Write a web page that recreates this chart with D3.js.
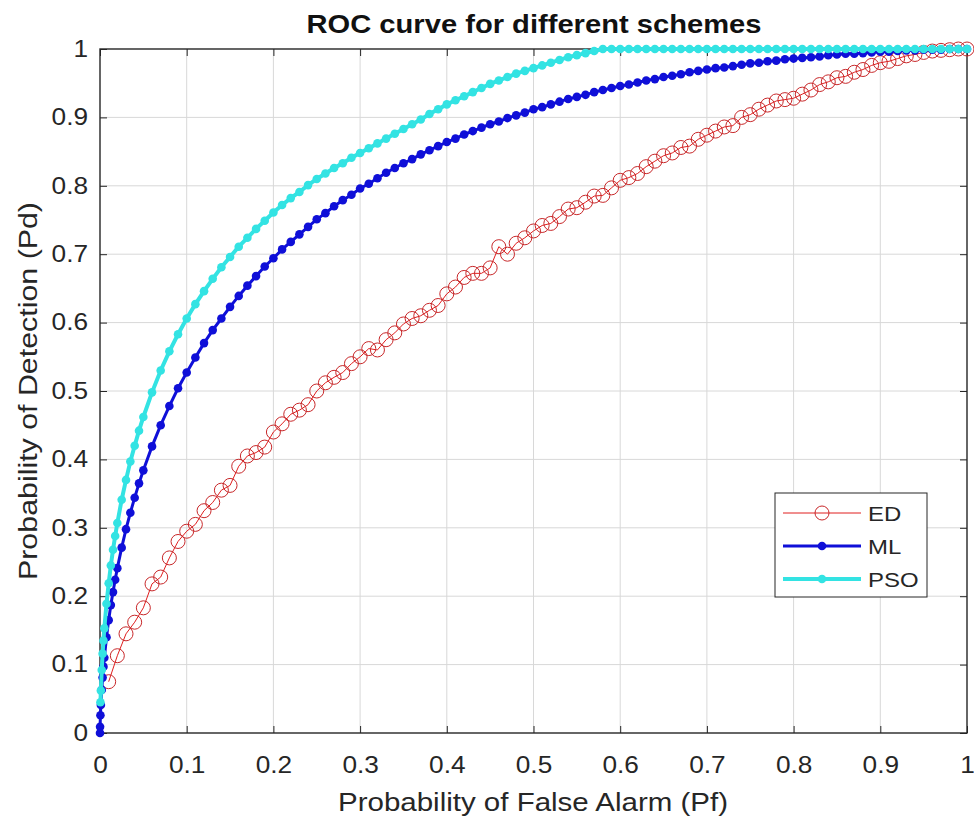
<!DOCTYPE html>
<html>
<head>
	<meta charset="utf-8">
	<title>ROC curve</title>
	<script src="https://d3js.org/d3.v7.min.js"></script>
	<style type="text/css">
		body { margin: 0; background: #fff; }
		svg text { font-family: 'Liberation Sans', Arial, sans-serif; fill: #262626; }
	</style>
</head>
<body>
	<div id="chart"></div>
	<script type="text/javascript">
		// shared false-alarm grid 0.06 .. 1.00
		const pfGrid = [0.06,0.07,0.08,0.09,0.10,0.11,0.12,0.13,0.14,0.15,0.16,0.17,0.18,0.19,0.20,
			0.21,0.22,0.23,0.24,0.25,0.26,0.27,0.28,0.29,0.30,0.31,0.32,0.33,0.34,0.35,0.36,0.37,0.38,0.39,0.40,
			0.41,0.42,0.43,0.44,0.45,0.46,0.47,0.48,0.49,0.50,0.51,0.52,0.53,0.54,0.55,0.56,0.57,0.58,0.59,0.60,
			0.61,0.62,0.63,0.64,0.65,0.66,0.67,0.68,0.69,0.70,0.71,0.72,0.73,0.74,0.75,0.76,0.77,0.78,0.79,0.80,
			0.81,0.82,0.83,0.84,0.85,0.86,0.87,0.88,0.89,0.90,0.91,0.92,0.93,0.94,0.95,0.96,0.97,0.98,0.99,1.00];

		const edPf = [0.01,0.02,0.03,0.04,0.05].concat(pfGrid);
		const edPd = [0.075,0.113,0.145,0.162,0.183,
			0.218,0.228,0.256,0.28,0.295,0.305,0.325,0.337,0.355,0.362,0.39,0.405,0.41,0.418,0.44,
			0.452,0.466,0.472,0.48,0.5,0.512,0.52,0.527,0.54,0.55,0.562,0.56,0.575,0.585,0.598,0.606,0.61,0.618,0.625,0.642,
			0.652,0.666,0.672,0.672,0.68,0.711,0.70,0.716,0.724,0.734,0.742,0.745,0.755,0.766,0.768,0.776,0.785,0.786,0.797,0.808,
			0.812,0.818,0.828,0.836,0.844,0.848,0.856,0.858,0.868,0.874,0.88,0.886,0.888,0.9,0.904,0.912,0.918,0.924,0.926,0.928,
			0.934,0.94,0.948,0.952,0.958,0.96,0.966,0.97,0.976,0.98,0.982,0.986,0.99,0.992,0.995,0.997,0.998,0.999,1.0,1.0];

		const mlPf = [0,0.0001,0.0005,0.001,0.002,0.003,0.004,0.005,0.0075,0.01,0.0125,0.015,0.0175,0.02,
			0.025,0.03,0.035,0.04,0.045,0.05].concat(pfGrid);
		const mlPd = [0,0.009,0.026,0.041,0.063,0.081,0.097,0.110,0.140,0.165,0.187,0.206,0.224,0.241,
			0.271,0.298,0.322,0.344,0.365,0.384,
			0.419,0.450,0.478,0.504,0.527,0.549,0.570,0.589,0.606,0.623,0.639,0.654,0.668,0.682,0.694,
			0.707,0.718,0.729,0.740,0.751,0.760,0.770,0.779,0.787,0.796,0.803,0.811,0.819,0.826,0.833,0.839,0.846,0.852,0.858,0.864,
			0.869,0.875,0.880,0.885,0.890,0.894,0.899,0.903,0.907,0.912,0.915,0.919,0.923,0.927,0.930,0.933,0.937,0.940,0.943,0.946,
			0.948,0.951,0.954,0.956,0.959,0.961,0.963,0.966,0.968,0.970,0.972,0.973,0.975,0.977,0.979,0.980,0.982,0.983,0.985,0.986,
			0.987,0.988,0.989,0.991,0.992,0.993,0.993,0.994,0.995,0.996,0.996,0.997,0.998,0.998,0.999,0.999,0.999,1.0,1.0,1.0];

		const psoPf = [0.0005,0.001,0.002,0.003,0.004,0.005,0.0075,0.01,0.0125,0.015,0.0175,0.02,
			0.025,0.03,0.035,0.04,0.045,0.05].concat(pfGrid);
		const psoPd = [0.045,0.062,0.092,0.116,0.135,0.153,0.189,0.219,0.245,0.268,0.288,0.307,
			0.341,0.370,0.397,0.420,0.442,0.462,
			0.498,0.530,0.558,0.583,0.606,0.627,0.646,0.664,0.681,0.696,0.711,0.724,0.737,0.749,0.761,
			0.772,0.782,0.791,0.801,0.810,0.818,0.826,0.833,0.841,0.848,0.855,0.862,0.869,0.876,0.883,0.890,0.897,0.905,0.912,0.919,
			0.925,0.931,0.937,0.943,0.949,0.954,0.959,0.964,0.968,0.972,0.976,0.980,0.984,0.988,0.991,0.994,0.997,1.0,1.0,1.0,
			1.0,1.0,1.0,1.0,1.0,1.0,1.0,1.0,1.0,1.0,1.0,1.0,1.0,1.0,1.0,1.0,1.0,1.0,1.0,1.0,
			1.0,1.0,1.0,1.0,1.0,1.0,1.0,1.0,1.0,1.0,1.0,1.0,1.0,1.0,1.0,1.0,1.0,1.0,1.0,1.0];

		const tickValues = [0,0.1,0.2,0.3,0.4,0.5,0.6,0.7,0.8,0.9,1];
		const seriesNames = ['ED','ML','PSO'];

		const W = 974, H = 821;
		const pLeft = 100, pRight = 967, pTop = 49, pBottom = 733;
		const wide = 1.14; // horizontal text stretch seen in the picture

		const x = d3.scaleLinear().domain([0,1]).range([pLeft,pRight]);
		const y = d3.scaleLinear().domain([0,1]).range([pBottom,pTop]);

		const svg = d3.select('#chart').append('svg')
			.attr('width', W).attr('height', H);

		function stretch(sel, k) {
			sel.each(function() {
				const len = this.getComputedTextLength();
				d3.select(this).attr('textLength', len * k).attr('lengthAdjust', 'spacingAndGlyphs');
			});
		}

		// grid
		svg.append('g').selectAll('line')
			.data(tickValues.slice(1,-1)).enter().append('line')
			.attr('x1', d => x(d)).attr('x2', d => x(d))
			.attr('y1', pTop).attr('y2', pBottom)
			.attr('stroke', '#d8d8d8').attr('stroke-width', 1);
		svg.append('g').selectAll('line')
			.data(tickValues.slice(1,-1)).enter().append('line')
			.attr('y1', d => y(d)).attr('y2', d => y(d))
			.attr('x1', pLeft).attr('x2', pRight)
			.attr('stroke', '#d8d8d8').attr('stroke-width', 1);

		// axes (MATLAB style box with inward ticks)
		const fmt = d => d === 0 ? '0' : d === 1 ? '1' : d3.format('.1f')(d);
		const ax = (g, axis) => {
			g.call(axis);
			g.select('.domain').remove();
			g.selectAll('line').attr('stroke', '#262626');
			g.selectAll('text').attr('font-size', 23).attr('fill', '#262626')
				.attr('font-family', "'Liberation Sans', Arial, sans-serif");
			stretch(g.selectAll('text'), wide);
		};
		svg.append('g').attr('transform', `translate(0,${pBottom})`)
			.call(g => ax(g, d3.axisBottom(x).tickValues(tickValues).tickFormat(fmt).tickSizeInner(-7).tickPadding(24)));
		svg.append('g').attr('transform', `translate(${pLeft},0)`)
			.call(g => ax(g, d3.axisLeft(y).tickValues(tickValues).tickFormat(fmt).tickSizeInner(-7).tickPadding(12)));
		svg.append('g').attr('transform', `translate(0,${pTop})`)
			.call(g => ax(g, d3.axisTop(x).tickValues(tickValues).tickFormat('').tickSizeInner(-7)));
		svg.append('g').attr('transform', `translate(${pRight},0)`)
			.call(g => ax(g, d3.axisRight(y).tickValues(tickValues).tickFormat('').tickSizeInner(-7)));

		svg.append('rect')
			.attr('x', pLeft).attr('y', pTop)
			.attr('width', pRight - pLeft).attr('height', pBottom - pTop)
			.attr('fill', 'none').attr('stroke', '#262626').attr('stroke-width', 1.4);

		const line = d3.line().x(d => x(d[0])).y(d => y(d[1]));
		const zip = (a, b) => a.map((v, i) => [v, b[i]]);

		const edData = zip(edPf, edPd);
		const mlData = zip(mlPf, mlPd);
		const psoData = zip(psoPf, psoPd);

		const edColor = '#e01e1e', mlColor = '#0f0fd8', psoColor = '#33e3e3';

		// ED
		svg.append('path').datum(edData).attr('d', line)
			.attr('fill', 'none').attr('stroke', edColor).attr('stroke-width', 1);
		svg.append('g').selectAll('circle').data(edData).enter().append('circle')
			.attr('cx', d => x(d[0])).attr('cy', d => y(d[1])).attr('r', 7)
			.attr('fill', 'none').attr('stroke', '#c8282a').attr('stroke-width', 1);

		// ML
		svg.append('path').datum(mlData).attr('d', line)
			.attr('fill', 'none').attr('stroke', mlColor).attr('stroke-width', 3);
		svg.append('g').selectAll('circle').data(mlData).enter().append('circle')
			.attr('cx', d => x(d[0])).attr('cy', d => y(d[1])).attr('r', 4.3)
			.attr('fill', mlColor);

		// PSO
		svg.append('path').datum(psoData).attr('d', line)
			.attr('fill', 'none').attr('stroke', psoColor).attr('stroke-width', 4);
		svg.append('g').selectAll('circle').data(psoData).enter().append('circle')
			.attr('cx', d => x(d[0])).attr('cy', d => y(d[1])).attr('r', 4.3)
			.attr('fill', psoColor);

		// title and labels
		svg.append('text').attr('x', 534).attr('y', 33)
			.attr('text-anchor', 'middle').attr('font-weight', 'bold').attr('font-size', 25)
			.attr('textLength', 455).attr('lengthAdjust', 'spacingAndGlyphs')
			.style('fill', '#111').text('ROC curve for different schemes');
		svg.append('text').attr('x', 533).attr('y', 811)
			.attr('text-anchor', 'middle').attr('font-size', 25)
			.attr('textLength', 390).attr('lengthAdjust', 'spacingAndGlyphs')
			.text('Probability of False Alarm (Pf)');
		svg.append('text').attr('transform', `translate(37,${(pTop + pBottom) / 2}) rotate(-90)`)
			.attr('text-anchor', 'middle').attr('font-size', 26)
			.attr('textLength', 378).attr('lengthAdjust', 'spacingAndGlyphs')
			.text('Probability of Detection (Pd)');

		// legend
		const lg = svg.append('g').attr('transform', 'translate(775,493)');
		lg.append('rect').attr('width', 152).attr('height', 104)
			.attr('fill', '#fff').attr('stroke', '#262626').attr('stroke-width', 1);
		const legendStyles = [
			{color: edColor, w: 1, marker: 'o'},
			{color: mlColor, w: 3, marker: '.'},
			{color: psoColor, w: 4, marker: '.'}
		];
		seriesNames.forEach((name, i) => {
			const s = legendStyles[i];
			const ly = 20 + i * 33;
			lg.append('line').attr('x1', 8).attr('x2', 86).attr('y1', ly).attr('y2', ly)
				.attr('stroke', s.color).attr('stroke-width', s.w);
			if (s.marker === 'o') {
				lg.append('circle').attr('cx', 47).attr('cy', ly).attr('r', 7)
					.attr('fill', 'none').attr('stroke', '#c8282a');
			} else {
				lg.append('circle').attr('cx', 47).attr('cy', ly).attr('r', 4.3).attr('fill', s.color);
			}
			lg.append('text').attr('x', 93).attr('y', ly + 7.5)
				.attr('font-size', 21).text(name)
				.call(t => stretch(t, wide));
		});
	</script>
</body>
</html>
